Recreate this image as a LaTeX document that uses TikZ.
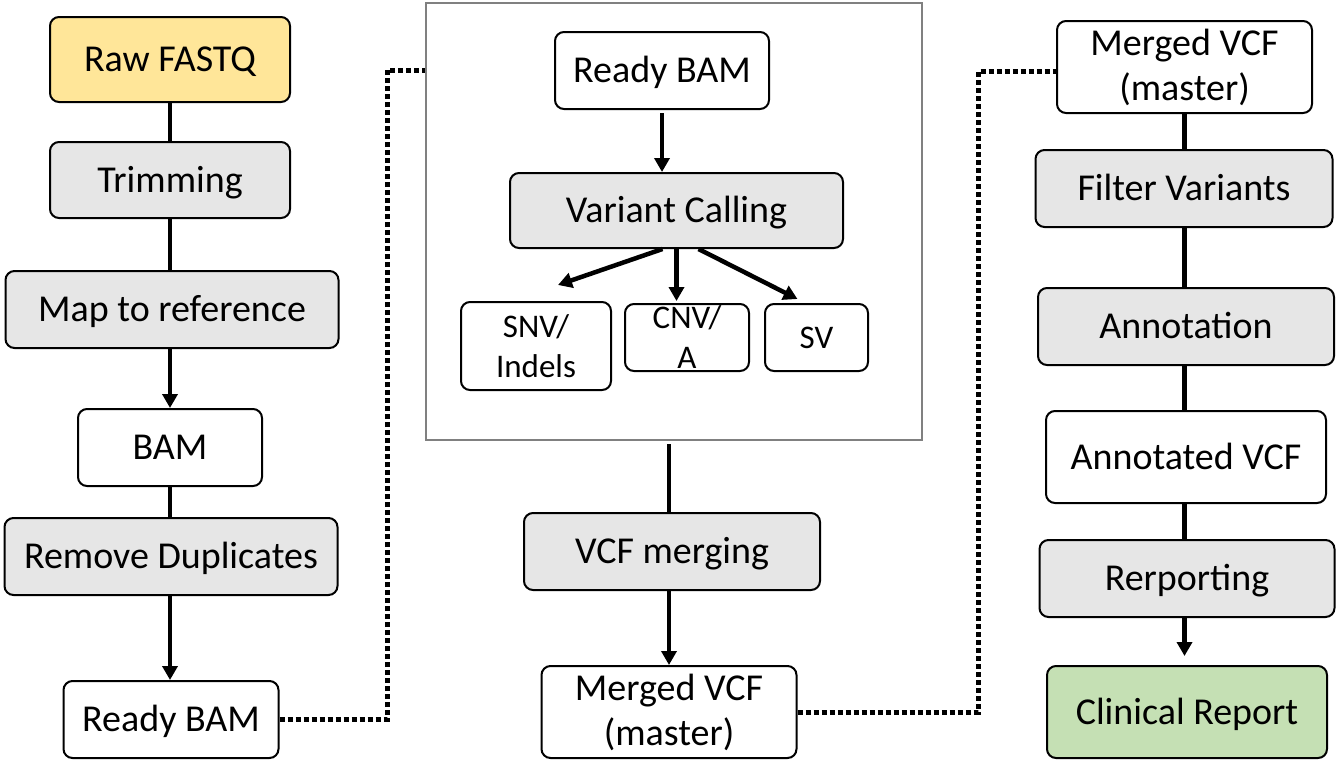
\documentclass[tikz,border=0pt]{standalone}
\usepackage{fontspec}
\setmainfont{Carlito}
\usetikzlibrary{arrows.meta,calc}
\definecolor{yel}{HTML}{FFE699}
\definecolor{gry}{HTML}{E6E6E6}
\definecolor{grn}{HTML}{C5E0B4}
\definecolor{frm}{HTML}{808080}
\begin{document}
\begin{tikzpicture}[x=1pt,y=-1pt,
 box/.style={draw=black, line width=2pt, rounded corners=9pt, inner sep=0pt, align=center, font=\fontsize{38}{45}\selectfont, fill=white},
 one/.style={text height=31pt, text depth=7pt},
 proc/.style={box, fill=gry},
 small/.style={box, font=\fontsize{33}{40}\selectfont},
 conn/.style={line width=4.5pt},
 arr/.style={conn, -{Triangle[width=15pt,length=14pt]}},
 dotline/.style={line width=5pt, dash pattern=on 5pt off 3pt}]
\useasboundingbox (0,0) rectangle (1337,779);
\fill[white] (0,0) rectangle (1337,779);

% frame
\node[draw=frm, line width=2pt, minimum width=496pt, minimum height=437pt, inner sep=0pt] (frame) at (674,221.5) {};

% left column
\node[box, one, fill=yel, minimum width=240pt, minimum height=85pt] (raw) at (170,59.5) {Raw FASTQ};
\node[proc, one, minimum width=240pt, minimum height=76pt] (trim) at (170,180) {Trimming};
\node[proc, one, minimum width=333pt, minimum height=77pt] (map) at (172,309.5) {Map to reference};
\node[box, one, minimum width=184pt, minimum height=77pt] (bam) at (170,447.5) {BAM};
\node[proc, one, minimum width=333pt, minimum height=77pt] (rmdup) at (171,556.5) {Remove Duplicates};
\node[box, one, minimum width=215pt, minimum height=77pt] (rbam) at (171,719.5) {Ready BAM};

% middle column
\node[box, one, minimum width=214pt, minimum height=77pt] (mrbam) at (662,70.5) {Ready BAM};
\node[proc, one, minimum width=333pt, minimum height=75pt] (vc) at (676.5,210.5) {Variant Calling};
\node[small, minimum width=150pt, minimum height=88pt] (snv) at (536,346) {SNV/\\Indels};
\node[small, minimum width=124pt, minimum height=67pt] (cnv) at (687,337.5) {CNV/\\A};
\node[small, text height=27pt, text depth=6pt, minimum width=103pt, minimum height=67pt] (sv) at (816.5,337.5) {SV};
\node[proc, one, minimum width=296pt, minimum height=77pt] (vcfm) at (672,551.5) {VCF merging};
\node[box, minimum width=255pt, minimum height=92pt] (mvcf) at (669,712) {Merged VCF\\(master)};

% right column
\node[box, minimum width=255pt, minimum height=92pt] (rm) at (1184.5,67) {Merged VCF\\(master)};
\node[proc, one, minimum width=297pt, minimum height=77pt] (fv) at (1184,188.5) {Filter Variants};
\node[proc, one, minimum width=296pt, minimum height=77pt] (ann) at (1186,326.5) {Annotation};
\node[box, one, minimum width=280pt, minimum height=92pt] (avcf) at (1186,457) {Annotated VCF};
\node[proc, one, minimum width=295pt, minimum height=77pt] (rep) at (1187,578.5) {Rerporting};
\node[box, one, fill=grn, minimum width=280pt, minimum height=92pt] (clin) at (1187,712) {Clinical Report};

% left connectors
\draw[conn] (raw.south) -- (raw.south |- trim.north);
\draw[conn] (trim.south) -- (trim.south |- map.north);
\draw[arr] (bam.north |- map.south) -- (bam.north);
\draw[conn] (bam.south) -- (bam.south |- rmdup.north);
\draw[arr] (bam.south |- rmdup.south) -- (bam.south |- rbam.north);

% middle connectors
\draw[arr] ([yshift=-3pt]mrbam.south) -- (mrbam.south |- vc.north);
\draw[arr] ([xshift=-14pt]vc.south) -- ([xshift=22pt,yshift=16pt]snv.north);
\draw[arr] (vc.south) -- ([yshift=-52pt]vc.south);
\draw[arr] ([xshift=22pt]vc.south) -- ([xshift=-19pt,yshift=4pt]sv.north);
\draw[conn] ([yshift=-3pt]mvcf.north |- frame.south) -- (mvcf.north |- vcfm.north);
\draw[arr] (mvcf.north |- vcfm.south) -- (mvcf.north);

% right connectors
\draw[conn] (rm.south) -- (rm.south |- fv.north);
\draw[conn] (rm.south |- fv.south) -- (rm.south |- ann.north);
\draw[conn] (rm.south |- ann.south) -- (rm.south |- avcf.north);
\draw[conn] (rm.south |- avcf.south) -- (rm.south |- rep.north);
\draw[arr, shorten >=9pt] (rm.south |- rep.south) -- (rm.south |- clin.north);

% dotted links
\coordinate (d1) at (387,70);
\coordinate (d2) at (978,71);
\draw[dotline] (rbam.east) -| (d1) -- (frame.west |- d1);
\draw[dotline] (mvcf.east) -| (d2) -- (rm.west |- d2);
\end{tikzpicture}
\end{document}
